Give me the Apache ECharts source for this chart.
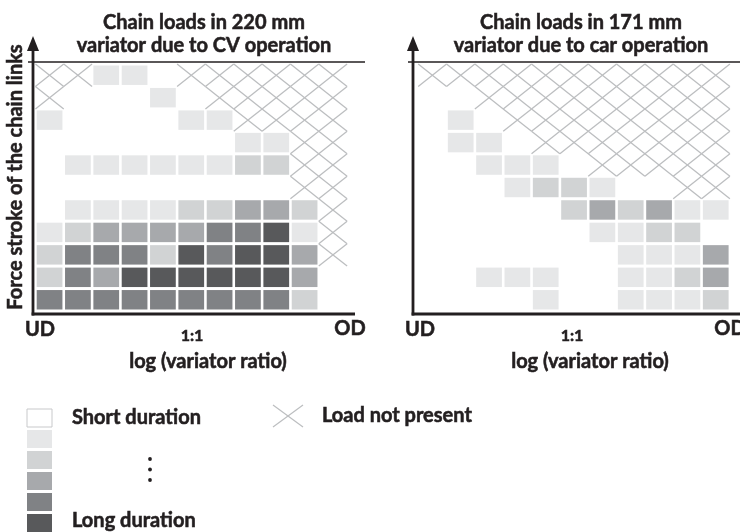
<!DOCTYPE html>
<html>
<head>
<meta charset="utf-8">
<script src="https://cdn.jsdelivr.net/npm/echarts@6/dist/echarts.min.js"></script>
<style>
html,body{margin:0;padding:0;background:#fff;}
#chart{width:740px;height:532px;}
</style>
</head>
<body>
<div id="chart"></div>
<script>
// ---------- data ----------
const ratioBins = ['b0','b1','b2','b3','b4','b5','b6','b7','b8','b9','b10'];
const strokeBins = ['s0','s1','s2','s3','s4','s5','s6','s7','s8','s9','s10'];
const tickLabels = ['UD', '1:1', 'OD'];
const titleCV = ['Chain loads in 220 mm', 'variator due to CV operation'];
const titleCar = ['Chain loads in 171 mm', 'variator due to car operation'];
const xTitle = 'log (variator ratio)';
const yTitle = 'Force stroke of the chain links';
const legendShort = 'Short duration';
const legendLong = 'Long duration';
const legendHatch = 'Load not present';
// duration level 0 (short) .. 5 (long)
const levelColors = ['#ffffff', '#e6e7e8', '#d1d3d4', '#a7a9ac', '#808285', '#58595b'];

// [ratio bin, stroke bin, duration level]
const cvCells = [
  [2,10,1],[3,10,1],
  [4,9,1],
  [0,8,1],[5,8,1],[6,8,1],
  [7,7,1],[8,7,1],
  [1,6,1],[2,6,1],[3,6,1],[4,6,1],[5,6,1],[6,6,1],[7,6,2],[8,6,2],
  [1,4,1],[2,4,1],[3,4,1],[4,4,1],[5,4,2],[6,4,2],[7,4,3],[8,4,3],[9,4,2],
  [0,3,1],[1,3,2],[2,3,3],[3,3,3],[4,3,3],[5,3,3],[6,3,4],[7,3,4],[8,3,5],[9,3,1],
  [0,2,2],[1,2,4],[2,2,4],[3,2,4],[4,2,2],[5,2,5],[6,2,4],[7,2,5],[8,2,5],[9,2,3],
  [0,1,2],[1,1,4],[2,1,3],[3,1,5],[4,1,5],[5,1,5],[6,1,5],[7,1,5],[8,1,5],[9,1,3],
  [0,0,4],[1,0,4],[2,0,4],[3,0,4],[4,0,4],[5,0,4],[6,0,4],[7,0,4],[8,0,4],[9,0,2]
];
// [ratio bin, stroke bin] where load not present
const cvHatch = [
  [0,10],[1,10],[5,10],[6,10],[7,10],[8,10],[9,10],[10,10],
  [0,9],[6,9],[7,9],[8,9],[9,9],[10,9],
  [7,8],[8,8],[9,8],[10,8],
  [9,7],[10,7],
  [9,6],[10,6],
  [9,5],[10,5],
  [10,4],[10,3],[10,2]
];
const carCells = [
  [1,8,1],
  [1,7,1],[2,7,1],
  [2,6,1],[3,6,1],[4,6,1],
  [3,5,1],[4,5,2],[5,5,2],[6,5,1],
  [5,4,2],[6,4,3],[7,4,2],[8,4,3],[9,4,1],[10,4,1],
  [6,3,1],[7,3,1],[8,3,2],[9,3,2],
  [7,2,1],[8,2,1],[9,2,1],[10,2,3],
  [2,1,1],[3,1,1],[4,1,1],[7,1,1],[8,1,1],[9,1,2],[10,1,3],
  [4,0,1],[7,0,1],[8,0,1],[9,0,1],[10,0,2]
];
const carHatch = [
  [0,10],[1,10],[2,10],[3,10],[4,10],[5,10],[6,10],[7,10],[8,10],[9,10],[10,10],
  [2,9],[3,9],[4,9],[5,9],[6,9],[7,9],[8,9],[9,9],[10,9],
  [3,8],[4,8],[5,8],[6,8],[7,8],[8,8],[9,8],[10,8],
  [4,7],[5,7],[6,7],[7,7],[8,7],[9,7],[10,7],
  [6,6],[7,6],[8,6],[9,6],[10,6],
  [9,5],[10,5]
];

// ---------- styling ----------
const INK = '#231f20';
const HATCH = '#bcbec0';
const FONT = 'Lato';

function renderCell(params, api) {
  const c = api.coord([api.value(0), api.value(1)]);
  const s = api.size([1, 1]);
  const gx = 2.6, gy = 3;
  return {
    type: 'rect',
    shape: { x: c[0] - s[0] / 2 + gx / 2, y: c[1] - s[1] / 2 + gy / 2, width: s[0] - gx, height: s[1] - gy },
    style: { fill: levelColors[api.value(2)] }
  };
}
function renderHatch(params, api) {
  const c = api.coord([api.value(0), api.value(1)]);
  const s = api.size([1, 1]);
  const x0 = c[0] - s[0] / 2, x1 = c[0] + s[0] / 2, y0 = c[1] - s[1] / 2, y1 = c[1] + s[1] / 2;
  return {
    type: 'group',
    children: [
      { type: 'line', shape: { x1: x0, y1: y0, x2: x1, y2: y1 }, style: { stroke: HATCH, lineWidth: 1.3 } },
      { type: 'line', shape: { x1: x0, y1: y1, x2: x1, y2: y0 }, style: { stroke: HATCH, lineWidth: 1.3 } }
    ]
  };
}

const grids = [
  { left: 35.4, top: 64, width: 311.7, height: 247 },
  { left: 418.2, top: 64, width: 311.7, height: 247 }
];
const axisX = [33, 413];       // y-axis line positions
const axisY = 314;             // x-axis line position

function txt(x, y, text, size, align, extra) {
  return Object.assign({
    type: 'text', x: x, y: y, silent: true,
    style: { text: text, fill: INK, stroke: INK, lineWidth: 0.55, font: 'bold ' + size + 'px ' + FONT, align: align || 'center', verticalAlign: 'middle' }
  }, extra || {});
}

const graphics = [];
// panel frames
[0, 1].forEach(function (p) {
  const ax = axisX[p];
  graphics.push({ type: 'line', shape: { x1: ax - 5, y1: 62, x2: p === 0 ? 365 : 740, y2: 62 }, style: { stroke: INK, lineWidth: 1.6 } });
  graphics.push({ type: 'line', shape: { x1: ax, y1: axisY + 1.4, x2: ax, y2: 48 }, style: { stroke: INK, lineWidth: 2.8 } });
  graphics.push({ type: 'polygon', shape: { points: [[ax - 6, 51], [ax + 6, 51], [ax, 36]] }, style: { fill: INK } });
  graphics.push({ type: 'line', shape: { x1: ax - 1.4, y1: axisY, x2: p === 0 ? 355 : 740, y2: axisY }, style: { stroke: INK, lineWidth: 2.8 } });
  // tick labels
  graphics.push(txt(ax + 7, 330, tickLabels[0], 20));
  graphics.push(txt(ax + 159, 336, tickLabels[1], 16));
  graphics.push(txt(ax + 317, 329, tickLabels[2], 20));
  // axis title
  graphics.push(txt(ax + (p === 0 ? 175 : 177), 362, xTitle, 20));
  // panel titles
  const t = p === 0 ? titleCV : titleCar;
  const cx = p === 0 ? 204 : 581;
  graphics.push(txt(cx, 22.5, t[0], 20));
  graphics.push(txt(cx, 46, t[1], 20));
});
// y-axis title
graphics.push(txt(0, 0, yTitle, 20, 'center', { x: 16, y: 177, rotation: Math.PI / 2 }));

// legend
const swY = [409, 430, 451, 472, 493, 514];
swY.forEach(function (y, i) {
  graphics.push({ type: 'rect', shape: { x: 27, y: y, width: 25, height: 18 },
    style: { fill: levelColors[i], stroke: i === 0 ? '#c8c9cb' : null, lineWidth: 1 } });
});
graphics.push(txt(72, 418, legendShort, 20, 'left'));
graphics.push(txt(72, 521, legendLong, 20, 'left'));
[459, 469.5, 480].forEach(function (y) {
  graphics.push({ type: 'circle', shape: { cx: 150, cy: y, r: 1.9 }, style: { fill: INK } });
});
graphics.push({ type: 'line', shape: { x1: 273, y1: 405, x2: 303, y2: 427 }, style: { stroke: HATCH, lineWidth: 1.2 } });
graphics.push({ type: 'line', shape: { x1: 273, y1: 427, x2: 303, y2: 405 }, style: { stroke: HATCH, lineWidth: 1.2 } });
graphics.push(txt(322, 415.5, legendHatch, 20, 'left'));

const chart = echarts.init(document.getElementById('chart'), null, { renderer: 'canvas' });
chart.setOption({
  animation: false,
  backgroundColor: '#ffffff',
  grid: grids,
  xAxis: [0, 1].map(function (i) {
    return { type: 'category', gridIndex: i, data: ratioBins, show: false };
  }),
  yAxis: [0, 1].map(function (i) {
    return { type: 'category', gridIndex: i, data: strokeBins, show: false };
  }),
  series: [
    { type: 'custom', xAxisIndex: 0, yAxisIndex: 0, renderItem: renderHatch, data: cvHatch, silent: true },
    { type: 'custom', xAxisIndex: 0, yAxisIndex: 0, renderItem: renderCell, data: cvCells, silent: true },
    { type: 'custom', xAxisIndex: 1, yAxisIndex: 1, renderItem: renderHatch, data: carHatch, silent: true },
    { type: 'custom', xAxisIndex: 1, yAxisIndex: 1, renderItem: renderCell, data: carCells, silent: true }
  ],
  graphic: graphics
});
</script>
</body>
</html>
